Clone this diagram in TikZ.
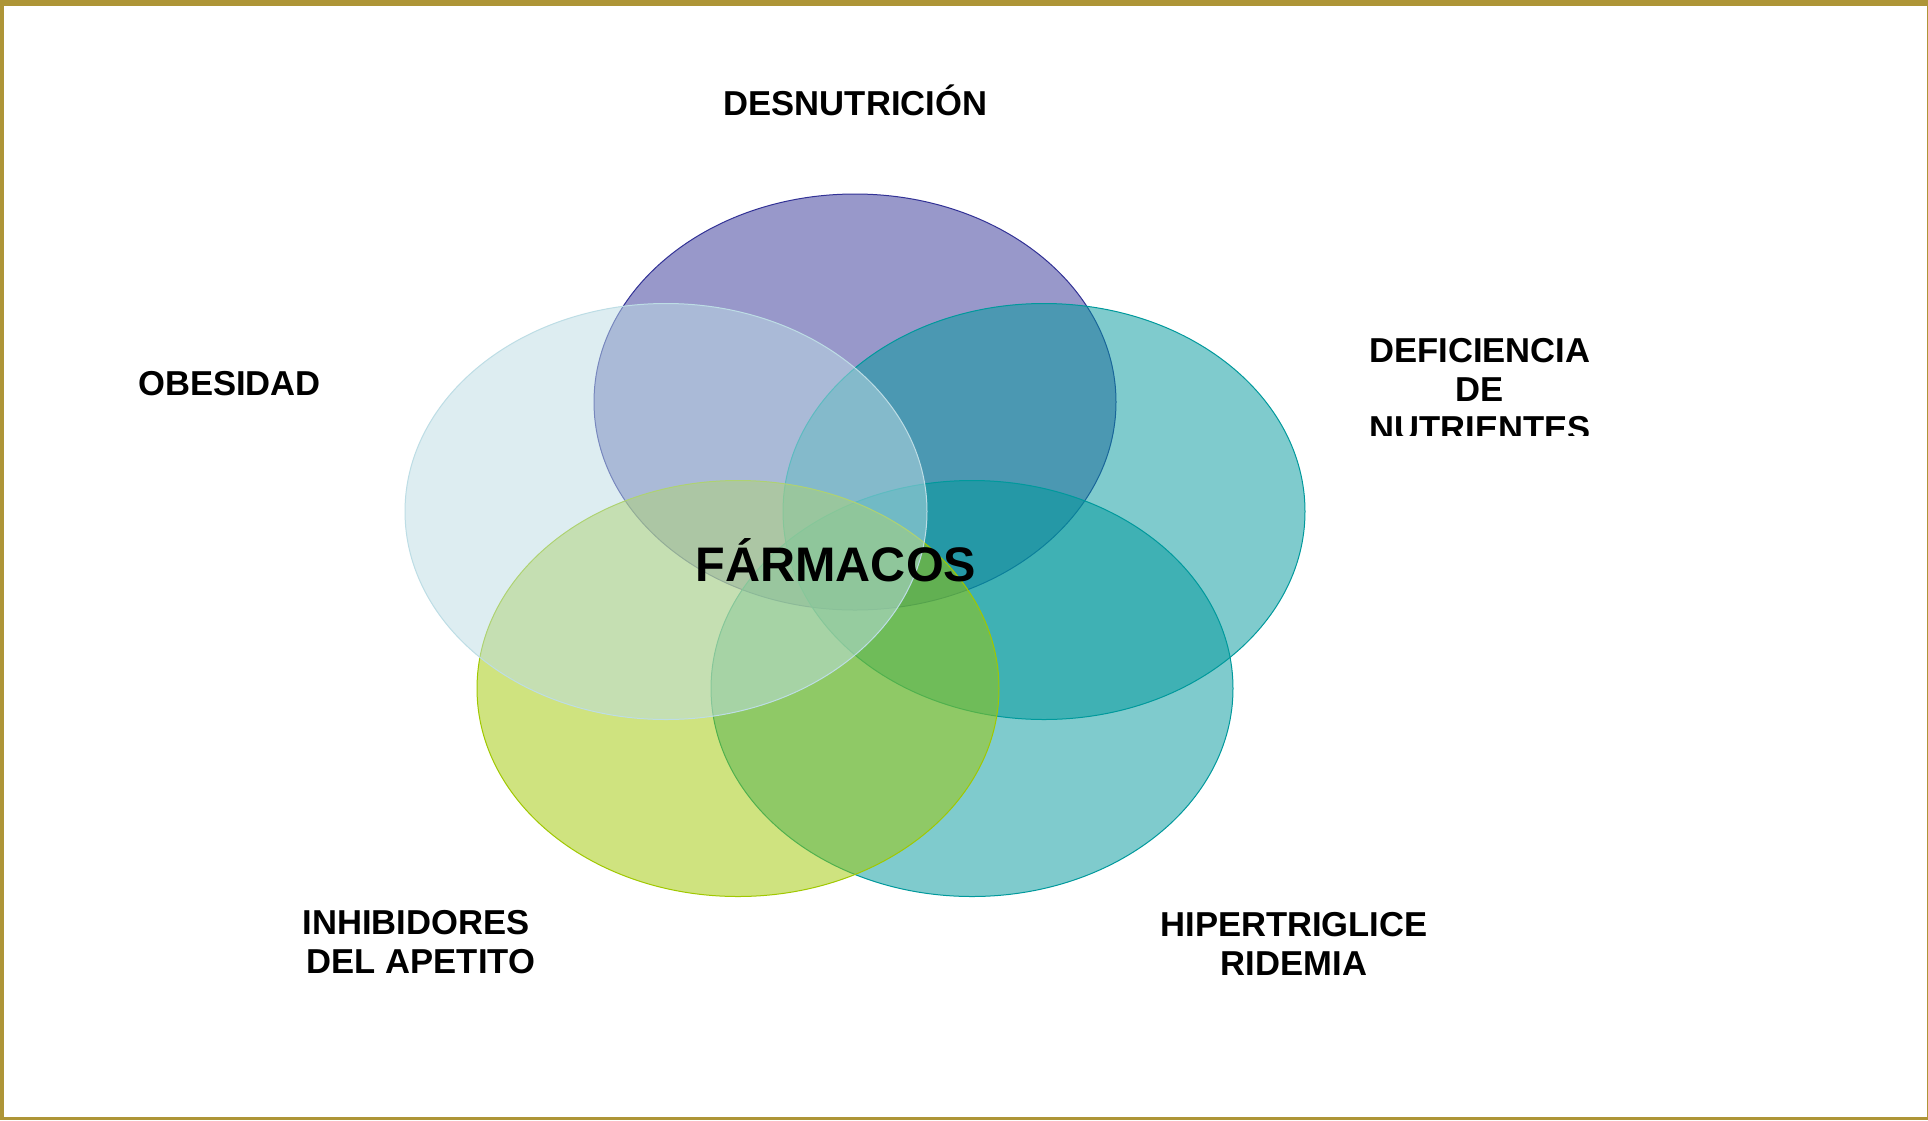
\documentclass[tikz,border=0pt]{standalone}
\usepackage{fontspec}
\setmainfont{Liberation Sans}
\usetikzlibrary{shapes.geometric}
\definecolor{framegold}{RGB}{174,149,55}
\definecolor{cpurple}{RGB}{50,50,150}
\definecolor{cteal}{RGB}{0,153,156}
\definecolor{cyellow}{RGB}{160,200,0}
\definecolor{clight}{RGB}{189,221,229}
\tikzset{
  venn/.style={ellipse, inner sep=0pt, minimum width=522pt, minimum height=416pt,
    line width=1pt, draw=#1, fill=#1, fill opacity=0.5, draw opacity=1},
  lbl/.style={font=\bfseries\fontsize{34.6}{39}\selectfont, align=center, inner sep=0pt, anchor=base, text=black},
  centerlbl/.style={font=\bfseries\fontsize{48.5}{56}\selectfont, inner sep=0pt, anchor=base, text=black}
}
\begin{document}
\begin{tikzpicture}[x=1pt,y=-1pt]
\useasboundingbox (0,0) rectangle (1928,1120);
\fill[framegold] (0,0) rectangle (1928,1120);
\fill[white] (3.7,5.7) rectangle (1927,1117);
% ellipses (drawing order as in reference)
\node[venn=cpurple] (desn) at (855,402) {};
\node[venn=cteal] (defi) at (1044,511.5) {};
\node[venn=cteal] (hiper) at (972,688.5) {};
\node[venn=cyellow] (inhib) at (738,688.5) {};
\node[venn=clight] (obes) at (666,511.5) {};
% labels (base anchor = baseline of the last line)
\node[centerlbl] (farm) at (836,581) {FÁRMACOS};
\node[lbl] (tdesn) at (855.5,115) {DESNUTRICIÓN};
\node[lbl] (tobes) at (229.5,395.7) {OBESIDAD};
\begin{scope}
\clip (1300,300) rectangle (1700,435);
\node[lbl] (tdefi) at (1480,440.7) {DEFICIENCIA\\DE\\NUTRIENTES};
\end{scope}
\node[lbl] (thiper) at (1294,975.5) {HIPERTRIGLICE\\RIDEMIA};
\node[lbl] (tinhib) at (421,973.5) {INHIBIDORES\hspace*{0.278em}\\DEL APETITO};
\end{tikzpicture}
\end{document}
